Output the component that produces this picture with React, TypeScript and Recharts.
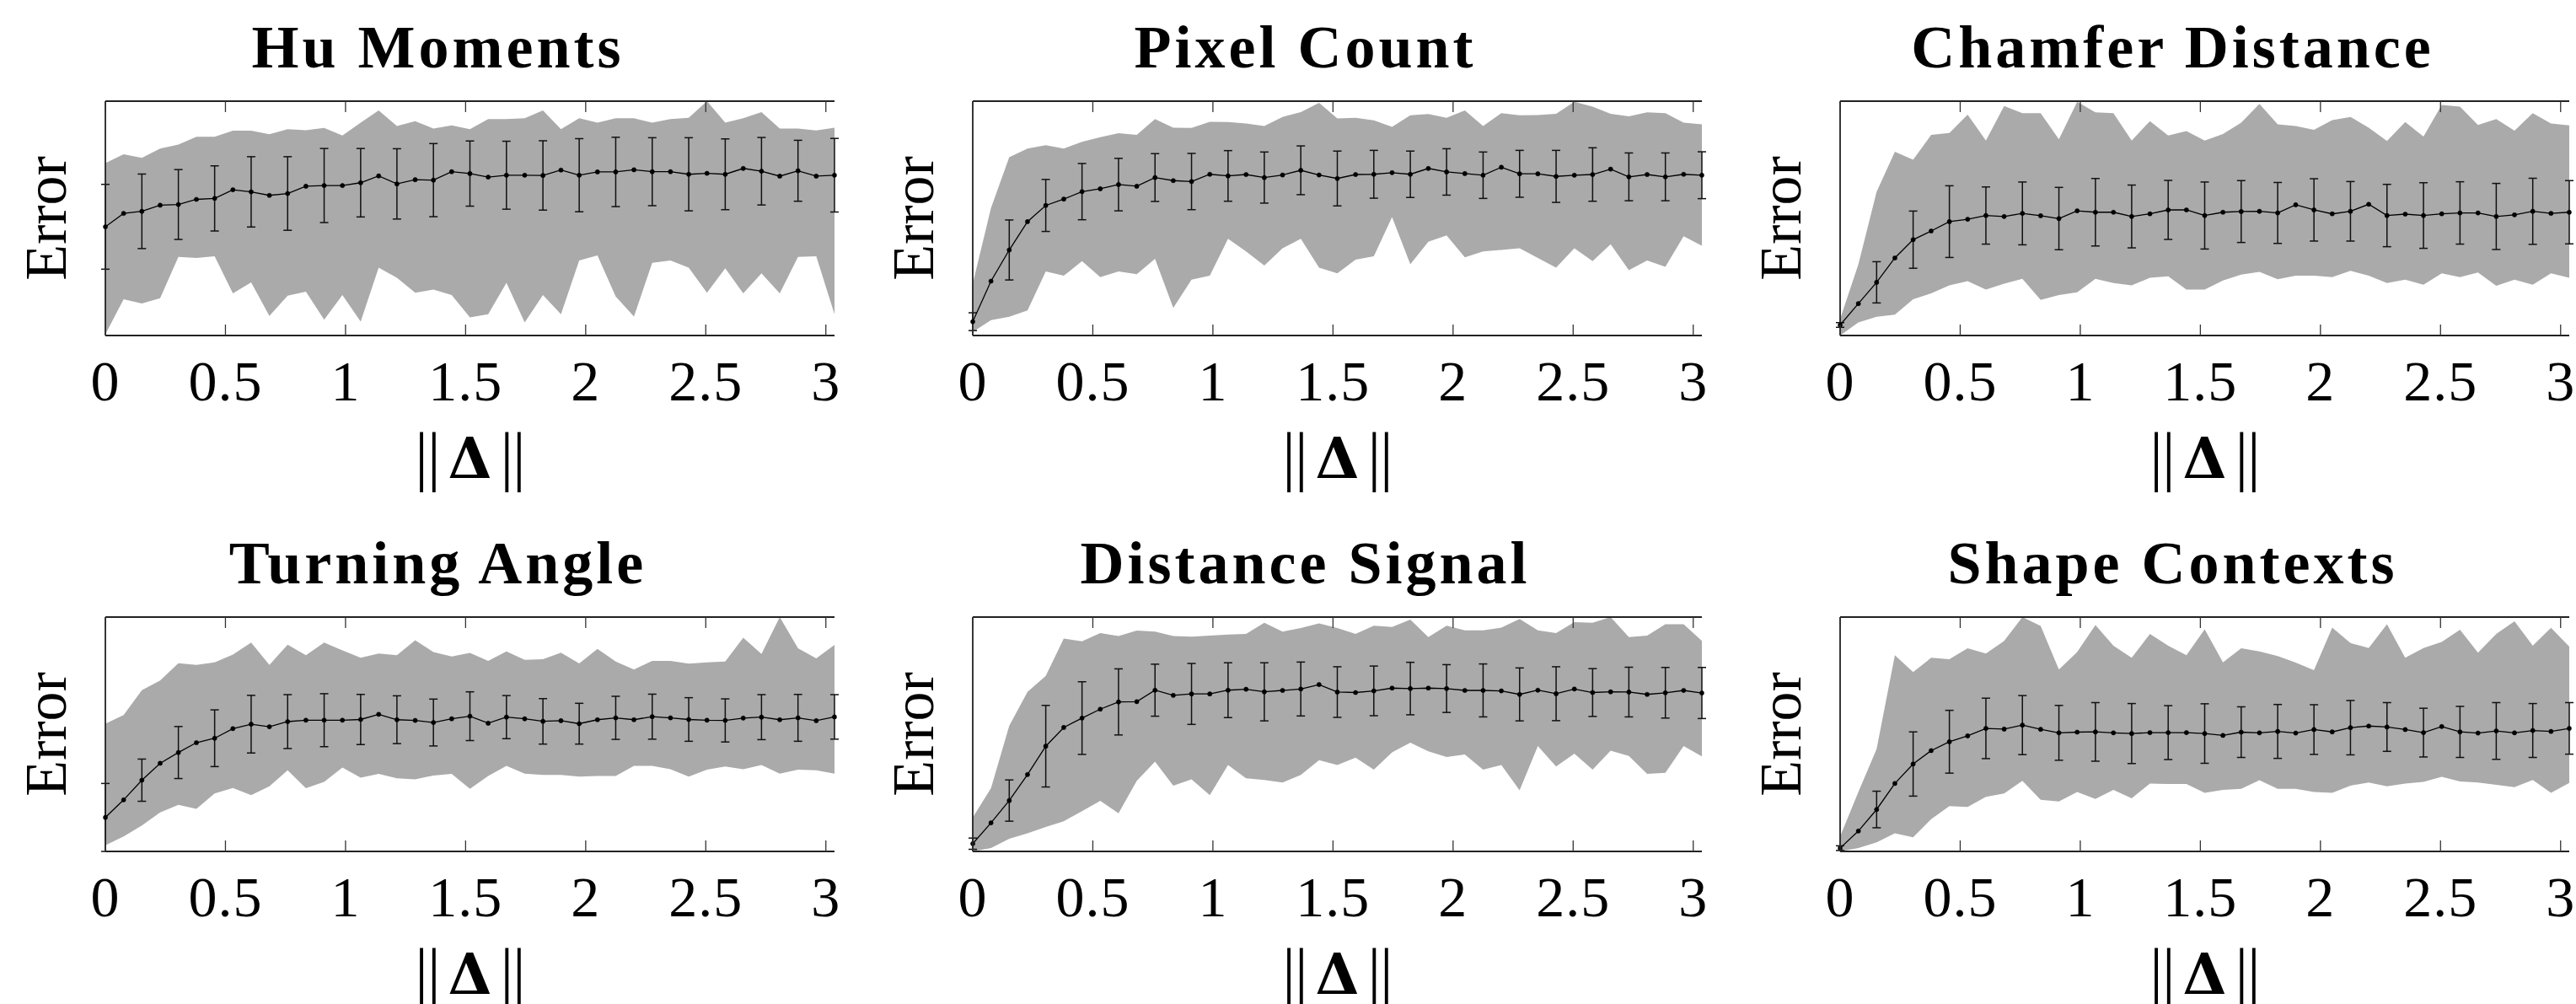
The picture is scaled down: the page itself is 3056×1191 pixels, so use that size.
import React from 'react';
import { ComposedChart, Area, Line, ErrorBar, XAxis, YAxis } from 'recharts';

// ||Δ|| sample positions (41 steps)
const deltaNorm = [
  0, 0.076, 0.152, 0.228, 0.304, 0.379, 0.455, 0.531, 0.607, 0.683, 0.759, 0.835, 0.911, 0.987,
  1.063, 1.138, 1.214, 1.29, 1.366, 1.442, 1.518, 1.594, 1.67, 1.746, 1.822, 1.897, 1.973, 2.049,
  2.125, 2.201, 2.277, 2.353, 2.429, 2.505, 2.581, 2.656, 2.732, 2.808, 2.884, 2.96, 3.036,
];
const xTicks = [0, 0.5, 1, 1.5, 2, 2.5, 3];
const X_MAX = 3.036;

// Hu Moments
const huMean = [46.4, 52.1, 53.0, 55.6, 55.9, 58.1, 58.5, 62.2, 61.3, 59.8, 60.6, 63.7, 64.0, 64.0, 65.2, 68.1, 64.7, 66.5, 66.3, 69.9, 69.1, 67.6, 68.4, 68.4, 68.3, 70.6, 68.4, 69.8, 69.8, 70.7, 69.9, 69.9, 68.8, 69.2, 68.8, 71.3, 70.1, 68.0, 70.3, 68.0, 68.4];
const huLow = [0.5, 15.5, 13.7, 15.9, 33.5, 33.1, 33.8, 18.0, 22.7, 8.4, 17.0, 18.7, 6.7, 17.3, 5.9, 29.0, 24.6, 18.3, 19.6, 17.3, 7.7, 9.1, 22.5, 5.6, 17.3, 9.1, 32.0, 34.2, 16.6, 8.1, 31.0, 32.0, 29.0, 18.3, 28.7, 18.0, 26.5, 18.0, 33.5, 33.8, 9.1];
const huHigh = [73.6, 77.3, 75.8, 79.8, 81.5, 84.8, 84.8, 87.4, 87.4, 85.9, 88.0, 87.6, 88.6, 85.3, 90.8, 96.0, 89.4, 91.5, 88.3, 89.7, 88.0, 92.4, 92.4, 92.7, 96.0, 88.0, 92.7, 90.8, 92.7, 92.7, 90.8, 92.4, 92.9, 100, 90.8, 92.7, 95.3, 88.3, 88.3, 87.5, 88.7];
const huErr = [18.1, 15.9, 14.9, 13.9, 15.0, 15.7, 15.8, 14.6, 15.0, 15.6, 13.9, 14.5, 14.8, 15.6, 14.8, 14.5, 15.6, 15.1, 14.4, 13.0, 15.7];

// Pixel Count
const pcMean = [5.9, 23.2, 36.5, 48.6, 55.5, 58.2, 61.4, 62.6, 64.4, 63.7, 67.4, 66.1, 65.7, 68.8, 68.1, 68.7, 67.4, 68.5, 70.5, 68.5, 67.0, 68.7, 68.8, 69.5, 68.8, 71.3, 69.8, 69.1, 68.4, 71.8, 69.0, 69.0, 67.9, 68.4, 68.7, 71.0, 67.7, 68.7, 67.7, 68.8, 68.4];
const pcLow = [1.5, 6.6, 8.0, 10.7, 27.3, 25.5, 31.7, 24.9, 27.3, 26.2, 32.7, 11.8, 23.8, 25.5, 41.3, 35.9, 29.9, 37.2, 41.3, 29.0, 26.5, 32.4, 33.8, 50.5, 30.4, 40.0, 42.7, 33.4, 35.9, 36.5, 37.2, 33.1, 29.0, 37.2, 31.7, 38.9, 27.9, 32.0, 29.3, 42.4, 38.3];
const pcHigh = [22.1, 54.4, 76.1, 79.8, 81.2, 79.8, 82.6, 84.6, 86.3, 85.6, 92.4, 88.7, 88.6, 91.2, 91.1, 90.5, 89.4, 93.3, 95.3, 99.3, 92.6, 92.9, 91.8, 89.0, 94.0, 94.5, 92.9, 96.0, 89.4, 94.9, 94.0, 94.1, 94.6, 99.7, 97.7, 94.6, 93.5, 95.2, 94.9, 90.8, 90.1];
const pcErr = [3.8, 12.8, 11.1, 12.0, 11.2, 10.2, 12.0, 10.8, 10.9, 10.4, 11.7, 10.2, 9.9, 9.9, 9.9, 10.0, 11.1, 11.4, 10.2, 10.2, 10.0];

// Chamfer Distance
const cdMean = [4.5, 13.6, 22.7, 33.1, 40.9, 44.6, 48.6, 49.6, 51.2, 50.8, 52.1, 51.1, 49.9, 53.2, 52.6, 52.6, 50.8, 51.9, 53.6, 53.6, 51.2, 52.6, 52.9, 53.0, 52.3, 55.8, 53.6, 51.9, 53.0, 56.0, 51.2, 51.8, 51.2, 51.9, 52.3, 52.3, 50.8, 51.5, 53.0, 52.1, 52.6];
const cdLow = [0, 5.6, 8.0, 8.9, 15.5, 18.0, 21.4, 23.2, 19.6, 22.1, 24.2, 15.2, 17.3, 18.4, 24.2, 22.4, 21.4, 24.6, 25.3, 19.6, 19.6, 23.5, 26.0, 27.2, 24.0, 25.5, 25.5, 24.9, 27.6, 25.5, 22.4, 23.8, 21.7, 26.5, 24.9, 26.9, 21.2, 23.8, 21.7, 26.5, 24.6];
const cdHigh = [7.0, 30.4, 61.3, 78.4, 75.0, 85.6, 86.4, 94.2, 83.2, 97.9, 94.9, 94.9, 83.7, 99.7, 95.2, 94.9, 83.2, 91.5, 85.3, 87.2, 83.2, 86.0, 90.8, 98.8, 90.1, 89.4, 87.8, 91.9, 93.3, 88.7, 83.0, 91.1, 84.9, 98.4, 97.7, 89.8, 92.4, 87.4, 94.9, 90.5, 89.7];
const cdErr = [1.0, 8.8, 12.2, 15.3, 12.2, 13.4, 13.3, 14.4, 13.4, 12.6, 14.3, 13.2, 13.0, 13.3, 12.7, 13.3, 14.0, 13.3, 14.1, 14.1, 13.5];

// Turning Angle
const taMean = [14.5, 22.0, 30.4, 37.6, 42.2, 46.4, 48.3, 52.4, 54.3, 53.2, 55.4, 56.0, 56.0, 56.0, 56.3, 58.5, 56.2, 55.9, 55.0, 56.6, 57.7, 54.7, 57.3, 56.6, 55.5, 55.8, 54.5, 56.2, 57.0, 56.2, 57.5, 57.0, 56.3, 56.0, 55.9, 56.9, 57.3, 56.2, 57.0, 55.8, 57.4];
const taLow = [2.6, 6.4, 11.1, 16.6, 19.9, 18.2, 24.7, 27.1, 24.0, 27.8, 34.6, 27.0, 29.7, 35.8, 31.5, 33.1, 31.2, 30.8, 32.4, 33.1, 26.7, 32.2, 36.5, 33.2, 32.6, 32.6, 31.9, 32.2, 32.2, 36.5, 36.5, 35.1, 31.9, 34.9, 36.2, 35.1, 36.9, 33.2, 34.9, 34.6, 33.2];
const taHigh = [54.5, 58.2, 68.8, 72.9, 80.3, 79.6, 80.7, 84.0, 89.1, 79.6, 88.2, 83.7, 89.1, 85.8, 82.6, 84.4, 83.7, 90.1, 85.1, 83.2, 84.7, 81.3, 85.3, 81.7, 82.0, 84.8, 80.2, 86.4, 81.0, 77.6, 81.3, 81.3, 80.1, 80.7, 81.0, 91.2, 84.3, 100, 86.7, 82.4, 88.1];
const taErr = [14.5, 9.0, 11.1, 12.1, 12.3, 11.5, 11.3, 10.7, 10.2, 10.0, 10.4, 9.2, 9.7, 8.7, 9.2, 9.6, 9.3, 9.2, 9.6, 10.0, 9.5];

// Distance Signal
const dsMean = [3.3, 12.2, 21.7, 32.8, 44.9, 52.9, 56.9, 60.7, 63.8, 63.9, 68.8, 66.6, 67.2, 67.2, 68.8, 69.2, 68.1, 68.7, 69.3, 71.2, 68.0, 67.8, 68.5, 69.7, 69.5, 69.7, 69.5, 68.7, 68.7, 68.5, 67.0, 68.8, 67.3, 69.3, 67.8, 68.1, 68.0, 67.0, 67.7, 68.7, 67.6];
const dsLow = [0, 1.4, 5.4, 7.7, 10.4, 12.9, 17.2, 21.6, 16.3, 30.1, 38.3, 28.1, 30.8, 24.0, 36.9, 31.2, 30.5, 29.4, 32.6, 38.9, 36.9, 40.0, 34.9, 42.3, 46.4, 42.7, 40.3, 41.4, 34.9, 36.9, 26.1, 45.0, 36.2, 41.7, 34.9, 43.0, 40.7, 33.1, 33.5, 45.0, 40.6];
const dsHigh = [14.5, 27.0, 53.6, 68.1, 74.9, 90.8, 89.7, 93.2, 91.9, 94.2, 93.8, 91.9, 91.6, 92.1, 92.5, 92.8, 97.6, 93.8, 95.3, 97.3, 95.3, 92.8, 96.3, 95.8, 98.9, 91.5, 96.3, 94.3, 94.3, 95.5, 99.2, 94.3, 93.2, 97.8, 97.6, 100, 91.5, 92.1, 96.9, 96.9, 89.8];
const dsErr = [2.4, 8.8, 17.4, 15.5, 14.1, 11.1, 13.0, 11.7, 12.4, 11.5, 10.8, 10.6, 11.2, 10.2, 11.3, 11.3, 11.5, 10.2, 10.6, 10.8, 10.9];

// Shape Contexts
const scMean = [1.4, 8.7, 17.9, 29.0, 37.3, 43.0, 46.8, 49.3, 52.5, 52.2, 53.9, 52.1, 50.6, 50.9, 51.0, 50.6, 50.3, 50.7, 50.7, 50.7, 50.3, 49.5, 50.9, 50.6, 51.2, 50.5, 52.0, 51.0, 52.8, 53.5, 53.1, 52.0, 50.7, 53.3, 51.0, 50.5, 51.4, 50.6, 51.6, 51.2, 52.5];
const scLow = [0, 1.4, 3.9, 7.7, 6.0, 13.8, 19.3, 19.0, 23.3, 24.7, 30.1, 22.0, 21.3, 25.4, 22.4, 26.3, 22.7, 29.0, 28.8, 28.8, 25.0, 26.3, 26.7, 30.4, 26.7, 26.7, 25.4, 25.0, 28.1, 29.4, 27.8, 29.0, 29.7, 31.8, 29.9, 29.4, 28.4, 27.4, 30.5, 25.0, 29.2];
const scHigh = [6.4, 25.4, 43.7, 83.7, 76.5, 82.6, 82.0, 86.7, 84.4, 89.8, 100, 96.2, 77.6, 85.1, 96.6, 87.8, 82.6, 92.8, 87.8, 83.7, 94.8, 80.7, 86.7, 85.3, 83.4, 80.6, 77.3, 95.5, 88.9, 86.8, 96.9, 82.6, 86.8, 89.4, 94.6, 84.8, 92.8, 98.2, 87.8, 95.4, 87.4];
const scErr = [1.0, 7.8, 13.7, 13.4, 12.9, 12.6, 11.7, 12.5, 12.8, 11.5, 12.7, 10.8, 11.5, 10.6, 11.6, 10.4, 10.4, 10.9, 12.1, 11.5, 11.0];

const panels = [
  { title: 'Hu Moments', mean: huMean, low: huLow, high: huHigh, err: huErr },
  { title: 'Pixel Count', mean: pcMean, low: pcLow, high: pcHigh, err: pcErr },
  { title: 'Chamfer Distance', mean: cdMean, low: cdLow, high: cdHigh, err: cdErr },
  { title: 'Turning Angle', mean: taMean, low: taLow, high: taHigh, err: taErr },
  { title: 'Distance Signal', mean: dsMean, low: dsLow, high: dsHigh, err: dsErr },
  { title: 'Shape Contexts', mean: scMean, low: scLow, high: scHigh, err: scErr },
];

const SERIF = '"Liberation Serif", "Times New Roman", serif';
const FRAME = { stroke: '#222', strokeWidth: 1.8 };

// error bars are only drawn on every second sample
const buildRows = (p: any) =>
  deltaNorm.map((x, i) => ({
    x,
    mean: p.mean[i],
    band: [p.low[i], p.high[i]],
    err: i % 2 === 0 ? p.err[i / 2] : null,
  }));

const BottomTick = (props: any) => {
  const { x, y, payload } = props;
  return (
    <g>
      <line x1={x} x2={x} y1={y} y2={y - 13} stroke="#333" strokeWidth={1.3} />
      <text x={x} y={y + 77} textAnchor="middle" fontFamily={SERIF} fontSize={68} letterSpacing={1} fill="#000">
        {payload.value}
      </text>
    </g>
  );
};

const TopTick = (props: any) => {
  const { x, y } = props;
  return <line x1={x} x2={x} y1={y} y2={y + 13} stroke="#333" strokeWidth={1.3} />;
};

const titleLabel = (title: string) => (props: any) => {
  const { x, y, width, height } = props.viewBox;
  return (
    <text
      x={x + width / 2 - 38}
      y={y + height - 40}
      textAnchor="middle"
      fontFamily={SERIF}
      fontWeight="bold"
      fontSize={72}
      letterSpacing={4}
      fill="#000"
    >
      {title}
    </text>
  );
};

const errorLabel = (props: any) => {
  const { x, y, width, height } = props.viewBox;
  const cx = x + width - 47;
  const cy = y + height / 2;
  return (
    <text x={cx} y={cy} transform={`rotate(-90 ${cx} ${cy})`} textAnchor="middle" fontFamily={SERIF} fontSize={70} fill="#000">
      Error
    </text>
  );
};

const deltaLabel = (props: any) => {
  const { x, y, width } = props.viewBox;
  return (
    <text x={x + width / 2} y={y + 169} textAnchor="middle" fontFamily={SERIF} fontSize={78} fill="#000">
      <tspan letterSpacing={-1}>||</tspan>
      <tspan dx={10} fontFamily='"DejaVu Serif", serif' fontWeight="bold" fontSize={67}>Δ</tspan>
      <tspan dx={10} letterSpacing={-1}>||</tspan>
    </text>
  );
};

const Panel = ({ panel, left, top, height, topH, bottomH }: any) => {
  const rows = buildRows(panel);
  return (
    <div style={{ position: 'absolute', left, top }}>
      <ComposedChart width={1040} height={height} data={rows} margin={{ top: 0, right: 50, bottom: 0, left: 0 }}>
        <XAxis
          xAxisId="t"
          orientation="top"
          dataKey="x"
          type="number"
          domain={[0, X_MAX]}
          allowDataOverflow
          ticks={xTicks}
          interval={0}
          height={topH}
          tickSize={0}
          tickMargin={0}
          tickLine={false}
          tick={(p: any) => <TopTick {...p} />}
          axisLine={FRAME}
          label={titleLabel(panel.title)}
        />
        <XAxis
          xAxisId="b"
          dataKey="x"
          type="number"
          domain={[0, X_MAX]}
          allowDataOverflow
          ticks={xTicks}
          interval={0}
          height={bottomH}
          tickSize={0}
          tickMargin={0}
          tickLine={false}
          tick={(p: any) => <BottomTick {...p} />}
          axisLine={FRAME}
          label={deltaLabel}
        />
        <YAxis yAxisId="l" type="number" domain={[0, 100]} allowDataOverflow width={125} tick={false} tickLine={false} axisLine={FRAME} label={errorLabel} />
        <YAxis yAxisId="r" orientation="right" type="number" domain={[0, 100]} allowDataOverflow width={0} tick={false} tickLine={false} axisLine={FRAME} />
        <Area
          xAxisId="t"
          yAxisId="r"
          dataKey="band"
          type="linear"
          fill="#aaaaaa"
          fillOpacity={1}
          stroke="none"
          activeDot={false}
          isAnimationActive={false}
        />
        <Line
          xAxisId="b"
          yAxisId="l"
          dataKey="mean"
          type="linear"
          stroke="#000"
          strokeWidth={1.3}
          dot={{ r: 2.6, fill: '#000', stroke: '#000', strokeWidth: 0.5, clipDot: false }}
          activeDot={false}
          isAnimationActive={false}
        >
          <ErrorBar dataKey="err" direction="y" width={5} stroke="#111" strokeWidth={1.5} isAnimationActive={false} />
        </Line>
      </ComposedChart>
    </div>
  );
};

const colLeft = [0, 1029, 2058];

export default function App() {
  return (
    <div style={{ position: 'fixed', left: 0, top: 0, width: 3056, height: 1191, overflow: 'hidden', background: '#fff' }}>
      {panels.map((p, i) => {
        const row = Math.floor(i / 3);
        return (
          <Panel
            key={p.title}
            panel={p}
            left={colLeft[i % 3]}
            top={row === 0 ? 0 : 600}
            height={row === 0 ? 600 : 591}
            topH={row === 0 ? 120 : 132}
            bottomH={row === 0 ? 202 : 181}
          />
        );
      })}
    </div>
  );
}
